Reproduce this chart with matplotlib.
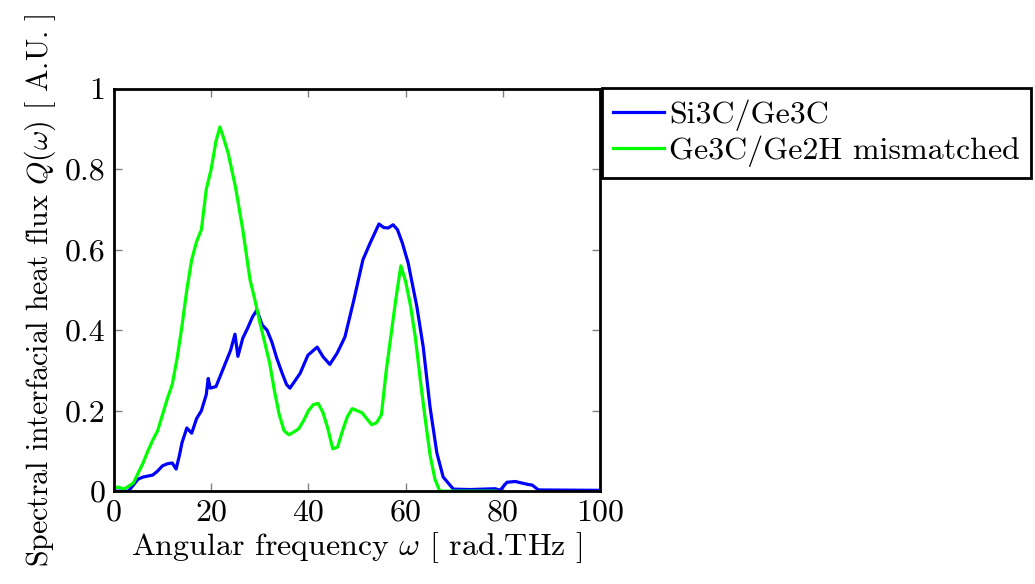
import numpy as np
import matplotlib.pyplot as plt
from matplotlib.ticker import FuncFormatter

plt.rcParams['font.family'] = 'cmr10'
plt.rcParams['mathtext.fontset'] = 'cm'
plt.rcParams['axes.formatter.use_mathtext'] = True
plt.rcParams['font.size'] = 23

# Si3C/Ge3C (blue)
si_x = [0, 3, 4, 5, 6, 8, 9, 10, 11, 12, 12.8, 13.5, 14, 15, 16, 17, 18, 19, 19.4, 19.8,
        21, 22, 23, 24, 24.9, 25.5, 26.5, 27.5, 28.5, 29.4, 30.5, 31.5, 32.5, 33.5, 34.6,
        35.5, 36.2, 37, 38.3, 39.9, 41.8, 43, 44.4, 45.9, 47.5, 49.2, 51.2, 52.7, 54.5,
        55.5, 56.4, 57.4, 58.3, 59.3, 60.5, 62.3, 63.6, 65, 66.4, 67.7, 69.8, 73.3, 78.4,
        79.4, 80.8, 82.5, 85, 86, 87.3, 100]
si_y = [0, 0, 0.015, 0.03, 0.035, 0.04, 0.05, 0.063, 0.068, 0.07, 0.055, 0.09, 0.12, 0.157,
        0.144, 0.18, 0.2, 0.24, 0.28, 0.256, 0.26, 0.29, 0.32, 0.35, 0.39, 0.335, 0.38, 0.405,
        0.433, 0.45, 0.413, 0.40, 0.37, 0.33, 0.293, 0.265, 0.256, 0.27, 0.293, 0.338, 0.358,
        0.334, 0.315, 0.343, 0.383, 0.468, 0.575, 0.617, 0.664, 0.655, 0.654, 0.662, 0.65,
        0.617, 0.567, 0.458, 0.358, 0.209, 0.095, 0.035, 0.005, 0.004, 0.006, 0.002, 0.022,
        0.024, 0.017, 0.015, 0.003, 0.002]

# Ge3C/Ge2H mismatched (green)
ge_x = [0, 1, 2, 3, 4, 5, 6, 7, 8, 9, 10, 11, 12, 13, 14, 15, 16, 17, 18, 19, 20, 21, 21.8,
        22.5, 23.5, 25, 26.5, 28, 29, 30, 31, 32, 33, 34, 35, 36, 37, 38, 39, 40, 41, 42, 43,
        44, 45, 46, 47, 48, 49, 50, 51, 52, 53, 54, 55, 56, 57, 58, 59, 60, 61, 62, 63, 64,
        65, 66, 67, 78.5]
ge_y = [0.008, 0.01, 0.005, 0.012, 0.02, 0.045, 0.07, 0.1, 0.127, 0.15, 0.19, 0.23, 0.265,
        0.33, 0.41, 0.5, 0.575, 0.62, 0.65, 0.75, 0.8, 0.87, 0.905, 0.88, 0.84, 0.756, 0.65,
        0.525, 0.475, 0.42, 0.37, 0.32, 0.25, 0.19, 0.15, 0.14, 0.147, 0.155, 0.175, 0.2,
        0.215, 0.218, 0.195, 0.155, 0.105, 0.11, 0.15, 0.185, 0.205, 0.2, 0.195, 0.18, 0.165,
        0.17, 0.19, 0.3, 0.39, 0.48, 0.56, 0.52, 0.46, 0.38, 0.276, 0.18, 0.09, 0.03, 0.0, 0.0]

fig = plt.figure(figsize=(10.35, 5.84), dpi=100)
ax = fig.add_axes([0.110, 0.159, 0.470, 0.689])

ax.plot(si_x, si_y, color='#0000ff', lw=2.3, label='Si3C/Ge3C')
ax.plot(ge_x, ge_y, color='#00ff00', lw=2.3, label='Ge3C/Ge2H mismatched')

ax.set_xlim(0, 100)
ax.set_ylim(0, 1)
ax.set_xticks([0, 20, 40, 60, 80, 100])
ax.set_yticks([0, 0.2, 0.4, 0.6, 0.8, 1])
ax.yaxis.set_major_formatter(FuncFormatter(lambda v, p: '%g' % v))
ax.xaxis.set_major_formatter(FuncFormatter(lambda v, p: '%g' % v))
ax.tick_params(direction='in', length=6, width=1, color='#808080',
               top=True, right=True, pad=6)
for s in ax.spines.values():
    s.set_linewidth(2.0)

ax.set_xlabel(r'Angular frequency $\omega$ [ rad.THz ]', labelpad=2)
ax.set_ylabel(r'Spectral interfacial heat flux $Q(\omega)$ [ A.U. ]',
              fontsize=21.5, labelpad=5)

leg = fig.legend(loc='upper left', bbox_to_anchor=(0.5816, 0.849),
                 bbox_transform=fig.transFigure, borderaxespad=0,
                 fancybox=False, framealpha=1, edgecolor='black',
                 handlelength=1.6, handletextpad=0.15, borderpad=0.35,
                 labelspacing=0.15)
leg.get_frame().set_linewidth(2.0)

fig.savefig('out.png', dpi=100)
